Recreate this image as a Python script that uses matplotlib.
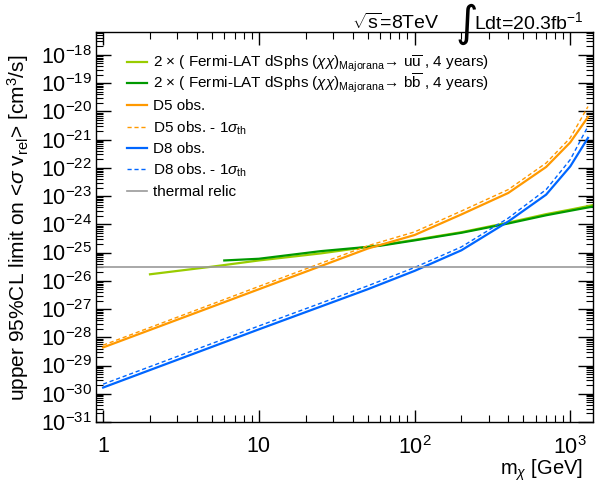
import numpy as np
import matplotlib
matplotlib.use("Agg")
import matplotlib.pyplot as plt
from matplotlib import ticker
from matplotlib.lines import Line2D

plt.rcParams['font.family'] = ['Liberation Sans', 'DejaVu Sans']
plt.rcParams['mathtext.fontset'] = 'custom'
plt.rcParams['mathtext.rm'] = 'Liberation Sans'
plt.rcParams['mathtext.it'] = 'Liberation Sans:italic'
plt.rcParams['mathtext.bf'] = 'Liberation Sans:bold'

# Mass points [GeV] and log10 of <sigma v> limits
mass_eft = [1, 10, 50, 100, 200, 400, 700, 1000, 1300]
d5_obs = [-28.36, -26.30, -24.86, -24.38, -23.65, -22.89, -21.97, -21.10, -20.20]
d5_obs_m1 = [-28.28, -26.20, -24.76, -24.27, -23.53, -22.77, -21.83, -20.94, -19.83]
d8_obs = [-29.78, -27.72, -26.30, -25.65, -24.92, -23.90, -22.95, -21.95, -20.94]
d8_obs_m1 = [-29.66, -27.60, -26.18, -25.53, -24.80, -23.78, -22.77, -21.71, -20.53]

mass_uu = [2, 5, 10, 25, 60, 100, 200, 400, 700, 1000, 1400]
fermi_uu = [-25.77, -25.50, -25.28, -25.03, -24.74, -24.55, -24.28, -23.94, -23.64, -23.48, -23.32]
mass_bb = [6, 10, 25, 60, 100, 200, 400, 700, 1000, 1400]
fermi_bb = [-25.28, -25.22, -24.95, -24.76, -24.57, -24.30, -23.97, -23.68, -23.52, -23.37]

thermal_relic = 3e-26

y_decades = list(range(-31, -17))
x_decades = [0, 1, 2, 3]

W, H = 595, 482
fig = plt.figure(figsize=(W/100, H/100), dpi=100)
ax = fig.add_axes([96/W, 1-422/H, 497/W, (422-31.7)/H])

c_light = "#99cc00"
c_dark = "#009900"
c_orange = "#ff9900"
c_blue = "#0066ff"
c_grey = "#999999"

ax.plot(mass_uu, 10**np.array(fermi_uu), color=c_light, lw=1.6)
ax.plot(mass_bb, 10**np.array(fermi_bb), color=c_dark, lw=1.6)
ax.plot(mass_eft, 10**np.array(d5_obs), color=c_orange, lw=1.6)
ax.plot(mass_eft, 10**np.array(d5_obs_m1), color=c_orange, lw=1.0, ls=(0, (3, 2)))
ax.plot(mass_eft, 10**np.array(d8_obs), color=c_blue, lw=1.6)
ax.plot(mass_eft, 10**np.array(d8_obs_m1), color=c_blue, lw=1.0, ls=(0, (3, 2)))
ax.axhline(thermal_relic, color=c_grey, lw=1.2)

ax.set_xscale("log")
ax.set_yscale("log")
ax.set_xlim(0.9, 1400)
ax.set_ylim(1e-31, 10**-17.18)

ax.set_yticks([10.0**e for e in y_decades])
ax.set_yticklabels([r"$10^{\mathrm{-%d}}$" % (-e) for e in y_decades])
ax.set_xticks([10.0**e for e in x_decades])
ax.set_xticklabels(["1", "10", r"$10^{2}$", r"$10^{3}$"])
ax.yaxis.set_minor_locator(ticker.LogLocator(base=10, subs=np.arange(2, 10), numticks=100))
ax.xaxis.set_minor_locator(ticker.LogLocator(base=10, subs=np.arange(2, 10), numticks=100))
ax.yaxis.set_minor_formatter(ticker.NullFormatter())
ax.xaxis.set_minor_formatter(ticker.NullFormatter())

ax.tick_params(which="both", direction="in", top=True, right=True, labelsize=15.5)
ax.tick_params(axis="y", which="major", length=11, width=1, pad=3)
ax.tick_params(axis="y", which="minor", length=5, width=0.8)
ax.tick_params(axis="x", which="major", length=9, width=1, pad=10)
ax.tick_params(axis="x", which="minor", length=5, width=0.8)
for s in ax.spines.values():
    s.set_linewidth(1.0)

fig.text(18/W, 1-401/H, r"upper 95%CL limit on <$\sigma$ v$_{\mathrm{rel}}$> [cm$^{3}$/s]",
         rotation=90, ha="center", va="bottom", fontsize=15)
fig.text(583/W, 1-470/H, r"m$_{\chi}$ [GeV]", ha="right", va="center", fontsize=14.5)

fig.text(352/W, 1-29/H, r"$\sqrt{\mathrm{s}}$=8TeV", ha="left", va="baseline", fontsize=14)
fig.text(455/W, 1-45/H, "∫", ha="left", va="bottom", fontsize=31, family="DejaVu Sans")
fig.text(474/W, 1-29/H, r"Ldt=20.3fb$^{\mathrm{-1}}$", ha="left", va="baseline", fontsize=14)

# legend, drawn entry by entry to match the original row spacing
leg_rows = [61.7, 83.3, 105, 126.7, 147.7, 169.3, 190.7]
leg_labels = [
    r"2 $\times$ ( Fermi-LAT dSphs $(\chi\chi)_{\mathrm{Majorana}}$→ u$\overline{\mathrm{u}}$ , 4 years)",
    r"2 $\times$ ( Fermi-LAT dSphs $(\chi\chi)_{\mathrm{Majorana}}$→ b$\overline{\mathrm{b}}$ , 4 years)",
    "D5 obs.",
    r"D5 obs. - 1$\sigma_{\mathrm{th}}$",
    "D8 obs.",
    r"D8 obs. - 1$\sigma_{\mathrm{th}}$",
    "thermal relic",
]
leg_styles = [
    dict(color=c_light, lw=1.6),
    dict(color=c_dark, lw=1.6),
    dict(color=c_orange, lw=1.6),
    dict(color=c_orange, lw=1.0, ls=(0, (3, 2))),
    dict(color=c_blue, lw=1.6),
    dict(color=c_blue, lw=1.0, ls=(0, (3, 2))),
    dict(color=c_grey, lw=1.2),
]
for y, lab, st in zip(leg_rows, leg_labels, leg_styles):
    fig.add_artist(Line2D([127/W, 147/W], [1-y/H, 1-y/H], transform=fig.transFigure, **st))
    fig.text(153/W, 1-(y+5.5)/H, lab, ha="left", va="baseline", fontsize=11)

fig.savefig("out.png", dpi=100)
